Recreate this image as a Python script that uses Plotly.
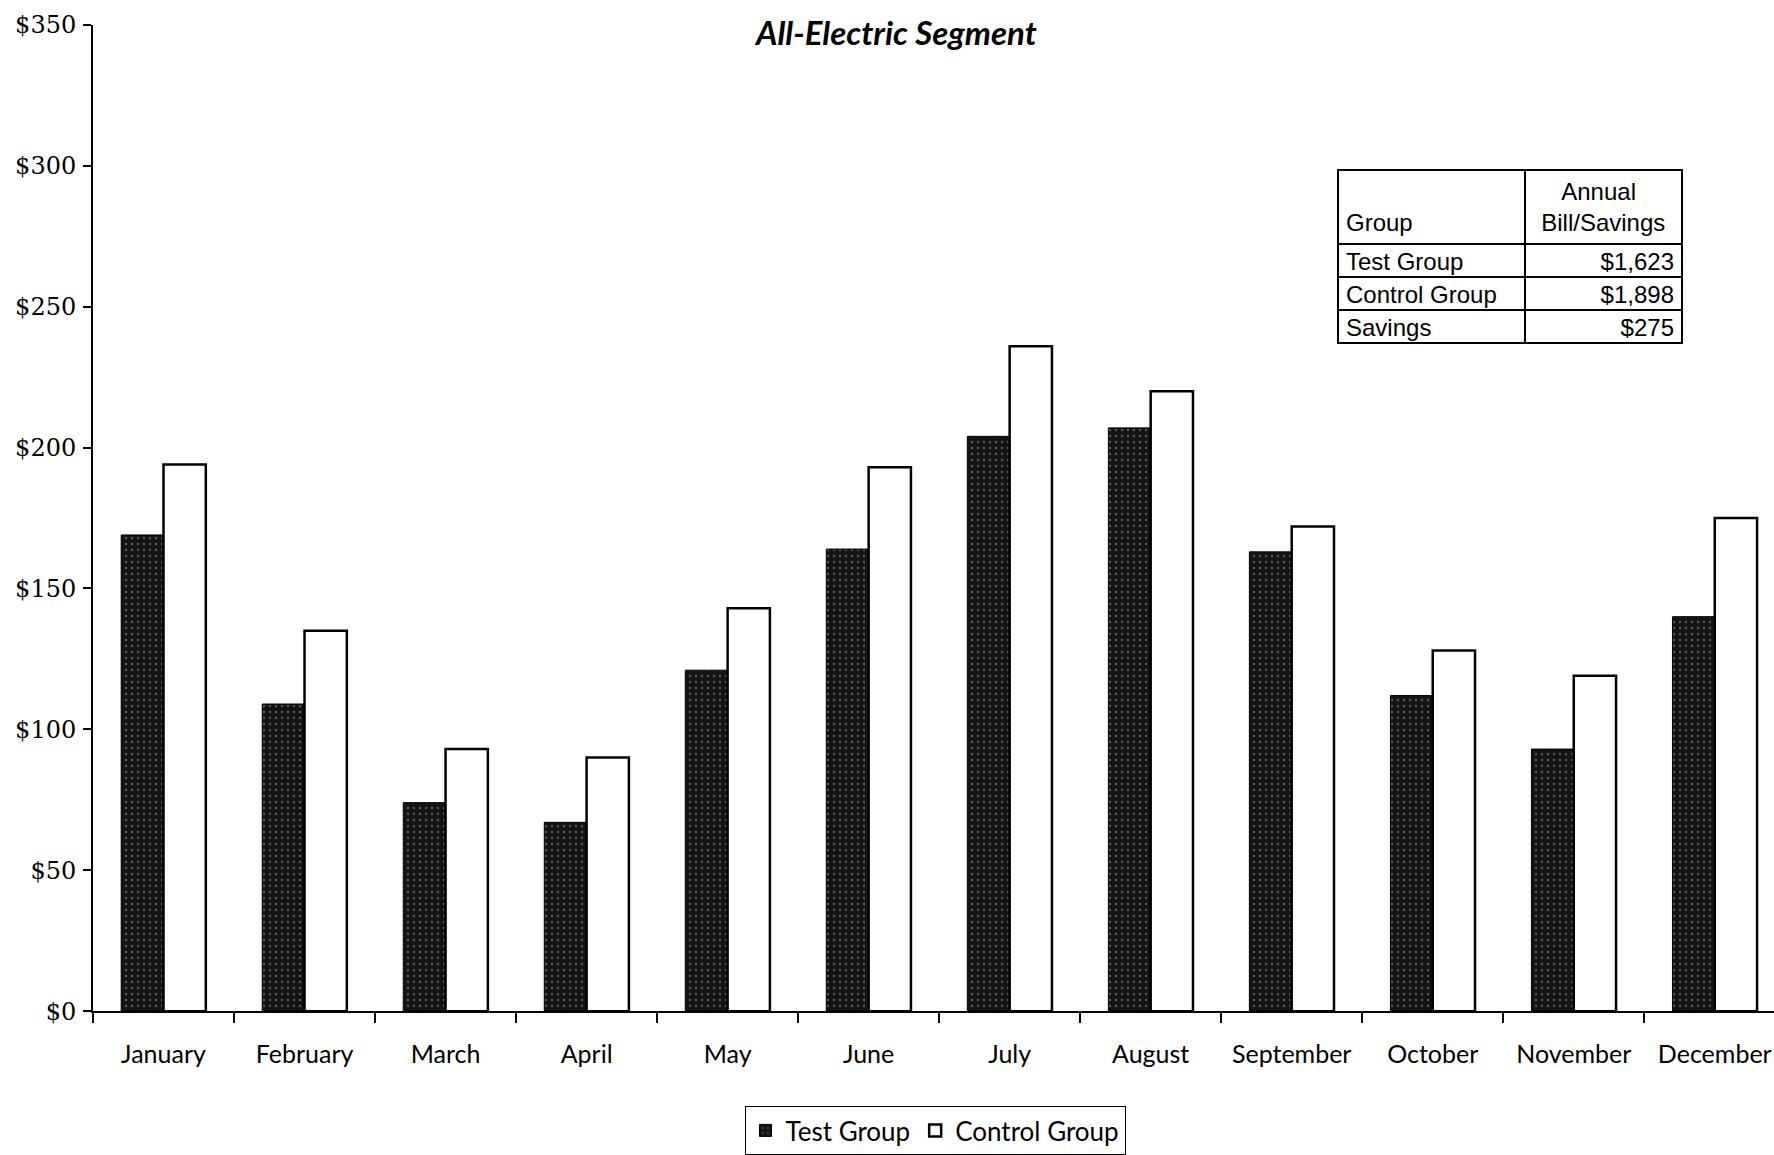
import plotly.graph_objects as go

months = ["January", "February", "March", "April", "May", "June", "July",
          "August", "September", "October", "November", "December"]
test_group = [169, 109, 74, 67, 121, 164, 204, 207, 163, 112, 93, 140]
control_group = [194, 135, 93, 90, 143, 193, 236, 220, 172, 128, 119, 175]

table_groups = ["Test Group", "Control Group", "Savings"]
table_values = ["$1,623", "$1,898", "$275"]

y_ticks = [0, 50, 100, 150, 200, 250, 300, 350]
y_ticktext = ["$0", "$50", "$100", "$150", "$200", "$250", "$300", "$350"]

W, H = 1774, 1155
fig = go.Figure()

fig.add_trace(go.Bar(
    x=months, y=test_group, name="Test Group",
    marker=dict(color="#141414", line=dict(color="black", width=1),
                pattern=dict(shape=".", fillmode="replace", bgcolor="#141414",
                             fgcolor="#5a5a5a", size=6, solidity=0.12)),
))
fig.add_trace(go.Bar(
    x=months, y=control_group, name="Control Group",
    marker=dict(color="white", line=dict(color="black", width=2.5)),
))

# summary table
fig.add_trace(go.Table(
    domain=dict(x=[1338 / W, 1683 / W], y=[0.5, 1 - 170 / H]),
    columnwidth=[186, 157],
    header=dict(values=["&nbsp;<br>Group", "&nbsp;&nbsp;&nbsp;Annual<br>Bill/Savings"],
                align=["left", "center"], height=62,
                line=dict(color="black", width=2), fill=dict(color="white"),
                font=dict(family="Liberation Sans", size=24, color="black")),
    cells=dict(values=[table_groups, table_values],
               align=["left", "right"], height=33,
               line=dict(color="black", width=2), fill=dict(color="white"),
               font=dict(family="Liberation Sans", size=24, color="black")),
))

fig.update_layout(
    width=W, height=H,
    margin=dict(l=0, r=0, t=0, b=0),
    paper_bgcolor="white", plot_bgcolor="white",
    barmode="group", bargap=0.4, bargroupgap=0,
    showlegend=True,
    legend=dict(orientation="h", x=935 / W, y=1 - 1131 / H,
                xanchor="center", yanchor="middle",
                bordercolor="black", borderwidth=1, bgcolor="white",
                font=dict(family="Lato", size=26, color="black"),
                itemwidth=30, traceorder="normal"),
    xaxis=dict(domain=[93 / W, 1], type="category", range=[-0.5, 11.42],
               showline=True, linecolor="black", linewidth=2,
               ticks="outside", tickson="boundaries", ticklen=10, tickwidth=2,
               tickcolor="black", showgrid=False, zeroline=False,
               ticklabelstandoff=20, automargin=False,
               tickfont=dict(family="Lato", size=25, color="black")),
    yaxis=dict(domain=[1 - 1012 / H, 1 - 25 / H], range=[0, 350],
               tickvals=y_ticks, ticktext=y_ticktext,
               showline=True, linecolor="black", linewidth=2,
               ticks="outside", ticklen=8, tickwidth=2, tickcolor="black",
               showgrid=False, zeroline=False, automargin=False,
               ticklabelstandoff=2,
               tickfont=dict(family="DejaVu Serif", size=24, color="black")),
    annotations=[dict(text="<b><i>All-Electric Segment</i></b>", x=895 / W, y=1 - 32 / H,
                      xref="paper", yref="paper", showarrow=False,
                      xanchor="center", yanchor="middle",
                      font=dict(family="Lato", size=33, color="black"))],
)

fig.write_html("out.html")
